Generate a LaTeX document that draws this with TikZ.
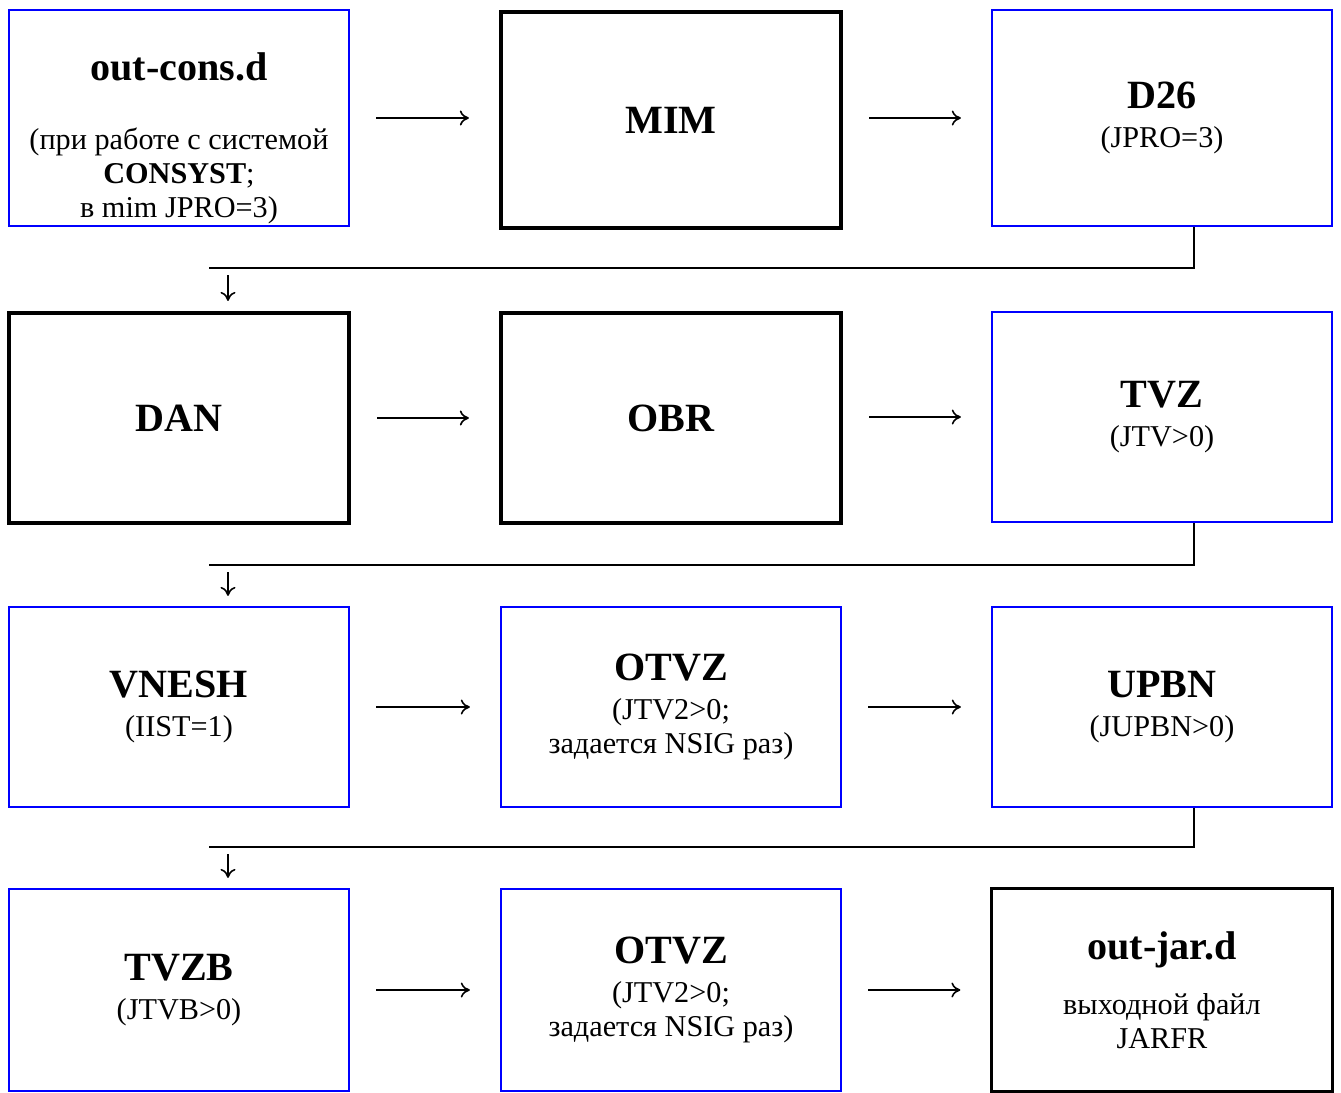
\documentclass[tikz,border=0pt]{standalone}
\usepackage{fontspec}
\setmainfont{Liberation Serif}
\usetikzlibrary{arrows.meta,positioning}

\newcommand{\ttl}[1]{{\fontsize{11.4}{12.5}\selectfont\bfseries #1}}

\begin{document}
\begin{tikzpicture}[x=0.01cm, y=-0.01cm,
    base box/.style={
        rectangle, minimum width=3.4cm, inner sep=0pt,
        align=center, font=\fontsize{8.6}{9.7}\selectfont
    },
    blue box/.style={base box, draw=blue, line width=0.6pt},
    prog box/.style={base box, draw, line width=1.15pt},
    out box/.style={base box, draw, line width=0.85pt},
    flow/.style={-{To[length=0.9mm,width=1.5mm]}, line width=0.45pt,
        shorten <=0.26cm, shorten >=0.3cm},
    drop/.style={-{To[length=0.9mm,width=1.5mm]}, line width=0.45pt,
        shorten >=0.1cm},
    link/.style={line width=0.6pt}
]
\useasboundingbox (0,0) rectangle (1341,1093);

% First row
\node[blue box, minimum height=2.16cm] (outcons) at (179,118) {
    \ttl{\rule{0pt}{0.68cm}out-cons.d}\\[10pt]
    (при работе с системой\\
    \textbf{CONSYST};\\
    в mim JPRO=3)
};
\node[prog box, minimum height=2.16cm] (mim) at (671,120) {\ttl{MIM}};
\node[blue box, minimum height=2.16cm] (d26) at (1162,118) {
    \ttl{D26}\\[1.5pt]
    (JPRO=3)
};

% Second row
\node[prog box, minimum height=2.1cm] (dan) at (179,418) {\ttl{DAN}};
\node[prog box, minimum height=2.1cm] (obr) at (671,418) {\ttl{OBR}};
\node[blue box, minimum height=2.1cm] (tvz) at (1162,417) {
    \ttl{TVZ}\\[1.5pt]
    (JTV>0)
};

% Third row
\node[blue box, minimum height=2.0cm] (vnesh) at (179,707) {
    \ttl{VNESH}\\[1.5pt]
    (IIST=1)
};
\node[blue box, minimum height=2.0cm] (otvz) at (671,707) {
    \ttl{OTVZ}\\[1.5pt]
    (JTV2>0;\\
    задается NSIG раз)
};
\node[blue box, minimum height=2.0cm] (upbn) at (1162,707) {
    \ttl{UPBN}\\[1.5pt]
    (JUPBN>0)
};

% Fourth row
\node[blue box, minimum height=2.02cm] (tvzb) at (179,990) {
    \ttl{TVZB}\\[1.5pt]
    (JTVB>0)
};
\node[blue box, minimum height=2.02cm] (otvzb) at (671,990) {
    \ttl{OTVZ}\\[1.5pt]
    (JTV2>0;\\
    задается NSIG раз)
};
\node[out box, minimum height=2.02cm] (outjar) at (1162,990) {
    \ttl{out-jar.d}\\[6pt]
    выходной файл\\
    JARFR
};

% Arrows along the rows
\draw[flow] (outcons.east) -- (outcons.east -| mim.west);
\draw[flow] (mim.east |- d26.west) -- (d26.west);
\draw[flow] (dan.east) -- (obr.west);
\draw[flow] (obr.east |- tvz.west) -- (tvz.west);
\draw[flow] (vnesh.east) -- (otvz.west);
\draw[flow] (otvz.east) -- (upbn.west);
\draw[flow] (tvzb.east) -- (otvzb.west);
\draw[flow] (otvzb.east) -- (outjar.west);

% Returns to the next row
\coordinate (bend1) at (1194,268);
\coordinate (turn1) at (209,268);
\coordinate (down1) at (228,275);
\draw[link] (d26.south -| bend1) -- (bend1) -- (turn1);
\draw[drop] (down1) -- (down1 |- dan.north);

\coordinate (bend2) at (1194,565);
\coordinate (turn2) at (209,565);
\coordinate (down2) at (228,572);
\draw[link] (tvz.south -| bend2) -- (bend2) -- (turn2);
\draw[drop] (down2) -- (down2 |- vnesh.north);

\coordinate (bend3) at (1194,847);
\coordinate (turn3) at (209,847);
\coordinate (down3) at (228,854);
\draw[link] (upbn.south -| bend3) -- (bend3) -- (turn3);
\draw[drop] (down3) -- (down3 |- tvzb.north);

\end{tikzpicture}
\end{document}
